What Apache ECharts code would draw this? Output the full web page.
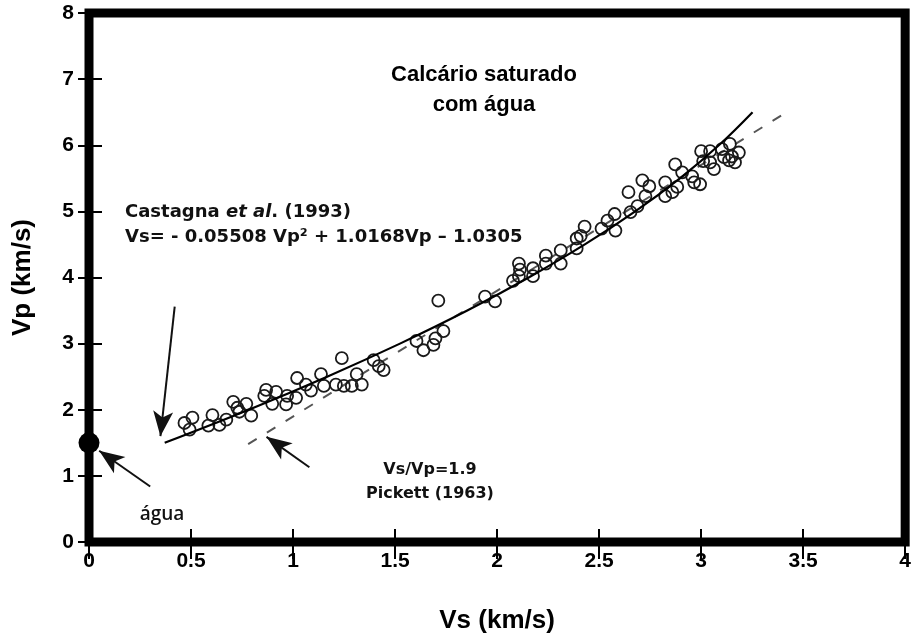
<!DOCTYPE html>
<html>
<head>
<meta charset="utf-8">
<script src="https://cdn.jsdelivr.net/npm/echarts@6/dist/echarts.min.js"></script>
<style>
  html, body { margin: 0; padding: 0; background: #fff; }
  #chart { width: 914px; height: 639px; }
</style>
</head>
<body>
<div id="chart"></div>
<script>
// Saturated limestone samples: shear velocity (Vs) and compressional velocity (Vp), km/s
const sampleVs = [
  0.468, 0.507, 0.493, 0.585, 0.605, 0.639, 0.673, 0.707, 0.727, 0.771,
  0.795, 0.737, 0.859, 0.868, 0.917, 0.898, 0.966, 0.971, 1.015, 1.020,
  1.063, 1.088, 1.137, 1.151, 1.210, 1.239, 1.249, 1.288, 1.312, 1.337,
  1.395, 1.420, 1.444, 1.605, 1.639, 1.688, 1.698, 1.737, 1.712, 1.941,
  1.990, 2.078, 2.107, 2.112, 2.107, 2.176, 2.176, 2.239, 2.239, 2.312,
  2.312, 2.390, 2.390, 2.429, 2.410, 2.512, 2.541, 2.576, 2.580, 2.644,
  2.654, 2.688, 2.712, 2.727, 2.746, 2.824, 2.824, 2.859, 2.883, 2.873,
  2.907, 2.956, 2.966, 2.995, 3.000, 3.010, 3.044, 3.044, 3.063, 3.102,
  3.112, 3.141, 3.151, 3.166, 3.185, 3.137
];
const sampleVp = [
  1.80, 1.88, 1.70, 1.76, 1.92, 1.77, 1.85, 2.12, 2.03, 2.09,
  1.91, 1.97, 2.21, 2.30, 2.27, 2.09, 2.08, 2.21, 2.18, 2.48,
  2.38, 2.29, 2.54, 2.36, 2.38, 2.78, 2.36, 2.36, 2.54, 2.38,
  2.75, 2.66, 2.60, 3.04, 2.90, 2.98, 3.08, 3.19, 3.65, 3.71,
  3.64, 3.95, 4.21, 4.12, 4.02, 4.14, 4.02, 4.33, 4.21, 4.41,
  4.21, 4.59, 4.44, 4.77, 4.63, 4.74, 4.86, 4.96, 4.71, 5.29,
  4.99, 5.08, 5.47, 5.23, 5.38, 5.44, 5.23, 5.29, 5.37, 5.71,
  5.59, 5.53, 5.44, 5.41, 5.91, 5.76, 5.91, 5.74, 5.64, 5.94,
  5.82, 6.02, 5.83, 5.74, 5.89, 5.77
];

// Castagna et al. (1993) trend
const castagnaVp = [1.5, 2.0, 2.5, 3.0, 3.5, 4.0, 4.5, 5.0, 5.5, 6.0, 6.5];
const castagnaVs = [0.371, 0.783, 1.167, 1.524, 1.854, 2.155, 2.430, 2.677, 2.896, 3.087, 3.252];

// Pickett (1963) Vp/Vs = 1.9 line
const pickettVs = [0.78, 3.42];
const pickettVp = [1.48, 6.50];

// Water
const waterVs = [0];
const waterVp = [1.5];

// Annotation arrows: [tailVs, tailVp, headVs, headVp]
const arrowCastagna = [0.42, 3.56, 0.35, 1.60];
const arrowPickett = [1.08, 1.13, 0.87, 1.59];
const arrowWater = [0.30, 0.84, 0.05, 1.38];

const xTickLabels = ['0', '0.5', '1', '1.5', '2', '2.5', '3', '3.5', '4'];

const FONT = "'Liberation Sans', Arial, sans-serif";
const NOTE_FONT = "'DejaVu Sans', Verdana, sans-serif";

const zip = (a, b) => a.map((v, i) => [v, b[i]]);
const arrowLine = a => [{ coord: [a[0], a[1]] }, { coord: [a[2], a[3]] }];

const chart = echarts.init(document.getElementById('chart'), null, { renderer: 'canvas' });

const baseTick = (len) => ({ show: true, inside: true, length: len, lineStyle: { color: '#000', width: 2 } });

chart.setOption({
  animation: false,
  backgroundColor: '#fff',
  grid: {
    left: 89, right: 5, top: 13, bottom: 94,
    show: true, borderColor: '#000', borderWidth: 9, backgroundColor: 'transparent'
  },
  xAxis: [{
    type: 'value', min: 0, max: 4, interval: 0.5, position: 'bottom',
    name: 'Vs (km/s)', nameLocation: 'middle', nameGap: 66,
    nameTextStyle: { fontFamily: FONT, fontWeight: 'bold', fontSize: 26, color: '#000' },
    axisLine: { show: false },
    axisTick: baseTick(13),
    splitLine: { show: false },
    axisLabel: {
      margin: 9, color: '#000', fontFamily: FONT, fontWeight: 'bold', fontSize: 21,
      formatter: v => xTickLabels[Math.round(v * 2)]
    }
  }, {
    type: 'value', min: 0, max: 4, interval: 0.5, position: 'top',
    axisLine: { show: false }, axisTick: baseTick(17),
    splitLine: { show: false }, axisLabel: { show: false }
  }],
  yAxis: [{
    type: 'value', min: 0, max: 8, interval: 1, position: 'left',
    name: 'Vp (km/s)', nameLocation: 'middle', nameGap: 53, nameRotate: 90,
    nameTextStyle: { fontFamily: FONT, fontWeight: 'bold', fontSize: 26, color: '#000' },
    axisLine: { show: false },
    axisTick: baseTick(13),
    splitLine: { show: false },
    axisLabel: { margin: 15, color: '#000', fontFamily: FONT, fontWeight: 'bold', fontSize: 21 }
  }, {
    type: 'value', min: 0, max: 8, interval: 1, position: 'right',
    axisLine: { show: false }, axisTick: baseTick(11),
    splitLine: { show: false }, axisLabel: { show: false }
  }],
  series: [
    {
      name: 'Pickett (1963)', type: 'line',
      data: zip(pickettVs, pickettVp),
      showSymbol: false, symbol: 'none',
      lineStyle: { color: '#555', width: 2, type: [10, 12] },
      z: 2
    },
    {
      name: 'Calcário saturado', type: 'scatter',
      data: zip(sampleVs, sampleVp),
      symbol: 'circle', symbolSize: 12,
      itemStyle: { color: 'rgba(255,255,255,0)', borderColor: '#1a1a1a', borderWidth: 1.8, opacity: 1 },
      z: 3
    },
    {
      name: 'Castagna et al. (1993)', type: 'line',
      data: zip(castagnaVs, castagnaVp),
      smooth: 0.4, showSymbol: false, symbol: 'none',
      lineStyle: { color: '#000', width: 2.2 },
      z: 4
    },
    {
      name: 'água', type: 'scatter',
      data: zip(waterVs, waterVp),
      symbol: 'circle', symbolSize: 21, clip: false,
      itemStyle: { color: '#000', opacity: 1 },
      z: 6
    },
    {
      name: 'setas', type: 'line', data: [],
      markLine: {
        silent: true, animation: false,
        symbol: ['none', 'arrow'], symbolSize: [15, 25],
        label: { show: false },
        lineStyle: { color: '#111', width: 2, type: 'solid' },
        data: [arrowLine(arrowCastagna), arrowLine(arrowPickett), arrowLine(arrowWater)]
      },
      z: 5
    }
  ],
  graphic: [
    {
      type: 'text', x: 484, y: 60,
      style: {
        text: 'Calcário saturado\ncom água',
        fontFamily: FONT, fontWeight: 'bold', fontSize: 22, lineHeight: 30,
        fill: '#000', align: 'center', verticalAlign: 'top'
      }
    },
    {
      type: 'text', x: 125, y: 200,
      style: {
        text: 'Castagna {i|et al}. (1993)\nVs= - 0.05508 Vp² + 1.0168Vp – 1.0305',
        fontFamily: NOTE_FONT, fontWeight: 'bold', fontSize: 18, lineHeight: 25, fill: '#111',
        verticalAlign: 'top',
        rich: { i: { fontFamily: NOTE_FONT, fontWeight: 'bold', fontStyle: 'italic', fontSize: 18, fill: '#111' } }
      }
    },
    {
      type: 'text', x: 430, y: 458,
      style: {
        text: 'Vs/Vp=1.9\nPickett (1963)', align: 'center', verticalAlign: 'top',
        fontFamily: NOTE_FONT, fontWeight: 'bold', fontSize: 16, lineHeight: 24, fill: '#111'
      }
    },
    {
      type: 'text', x: 162, y: 505,
      style: {
        text: 'água', align: 'center', verticalAlign: 'top',
        fontFamily: "'Open Sans', sans-serif", fontWeight: 600, fontSize: 19, fill: '#111'
      }
    }
  ]
});
</script>
</body>
</html>
